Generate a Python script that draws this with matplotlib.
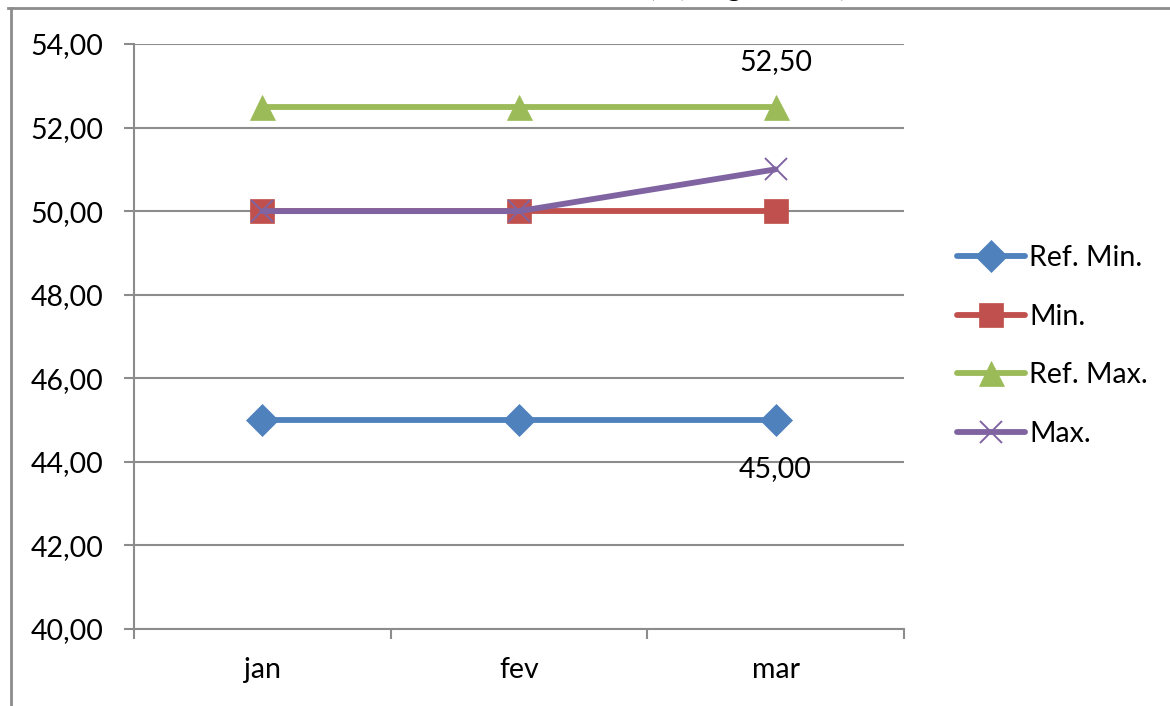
"""Line chart of reference limits vs measured min/max by month."""
import matplotlib.pyplot as plt
from matplotlib.lines import Line2D
from matplotlib.ticker import FixedLocator, FuncFormatter

months = ["jan", "fev", "mar"]
ref_min = [45.0, 45.0, 45.0]
val_min = [50.0, 50.0, 50.0]
ref_max = [52.5, 52.5, 52.5]
val_max = [50.0, 50.0, 51.0]

series = [
    ("Ref. Min.", ref_min, "#4F81BD", "D"),
    ("Min.", val_min, "#C0504D", "s"),
    ("Ref. Max.", ref_max, "#9BBB59", "^"),
    ("Max.", val_max, "#8064A2", "x"),
]

TITLE = "Umidade (%) - kg, Lote A)"
GRID = "#8C8C8C"
FONT = "Lato"
FS = 20.5


def comma(v, _pos=None):
    return f"{v:.2f}".replace(".", ",")


def main() -> None:
    plt.rcParams["font.family"] = [FONT, "DejaVu Sans"]
    fig = plt.figure(figsize=(11.7, 7.06), dpi=100)
    ax = fig.add_axes([0.1145, 0.1091, 0.6581, 0.8286])

    x = list(range(len(months)))
    sizes = {"D": 16, "s": 17, "^": 18, "x": 16}
    for label, vals, color, marker in series:
        ax.plot(x, vals, color=color, lw=4.2, marker=marker,
                markersize=sizes[marker], markeredgewidth=1.4 if marker == "x" else 0.5,
                markeredgecolor=color, label=label, solid_capstyle="round")

    ax.set_xlim(-0.5, len(months) - 0.5)
    ax.set_ylim(40, 54)
    ax.yaxis.set_major_locator(FixedLocator([40, 42, 44, 46, 48, 50, 52, 54]))
    ax.yaxis.set_major_formatter(FuncFormatter(comma))
    ax.grid(axis="y", color=GRID, lw=1.5)
    ax.set_axisbelow(True)

    ax.xaxis.set_major_locator(FixedLocator([-0.5, 0.5, 1.5, 2.5]))
    ax.xaxis.set_major_formatter(FuncFormatter(lambda v, p: ""))
    ax.xaxis.set_minor_locator(FixedLocator(x))
    ax.set_xticklabels(months, minor=True)
    ax.tick_params(axis="x", which="minor", length=0, pad=20, labelsize=FS)
    ax.tick_params(axis="x", which="major", length=7, width=1.5, color=GRID)
    ax.tick_params(axis="y", length=7, width=1.5, color=GRID, pad=15, labelsize=FS)

    for side in ("top", "right"):
        ax.spines[side].set_visible(False)
    for side in ("left", "bottom"):
        ax.spines[side].set_color(GRID)
        ax.spines[side].set_linewidth(1.5)

    ax.annotate(comma(ref_max[-1]), (x[-1], ref_max[-1]), xytext=(0, 32),
                textcoords="offset points", ha="center", va="center", fontsize=FS)
    ax.annotate(comma(ref_min[-1]), (x[-1], ref_min[-1]), xytext=(0, -35),
                textcoords="offset points", ha="center", va="center", fontsize=FS)

    ax.legend(loc="center left", bbox_to_anchor=(0.808, 0.51),
              bbox_transform=fig.transFigure, frameon=False, fontsize=FS,
              handlelength=2.4, handletextpad=0.15, labelspacing=1.15,
              borderaxespad=0)

    # chart-area frame and clipped title (only its lower edge shows)
    fig.add_artist(Line2D([0.007, 1.0], [0.989, 0.989], transform=fig.transFigure,
                          color=GRID, lw=2))
    fig.add_artist(Line2D([0.009, 0.009], [0.0, 0.989], transform=fig.transFigure,
                          color=GRID, lw=2))
    fig.text(847 / 1170, 1 + 4 / 706, TITLE, ha="right",
             va="baseline", fontsize=FS, fontweight="bold")

    fig.savefig("out.png", dpi=100)


if __name__ == "__main__":
    main()
